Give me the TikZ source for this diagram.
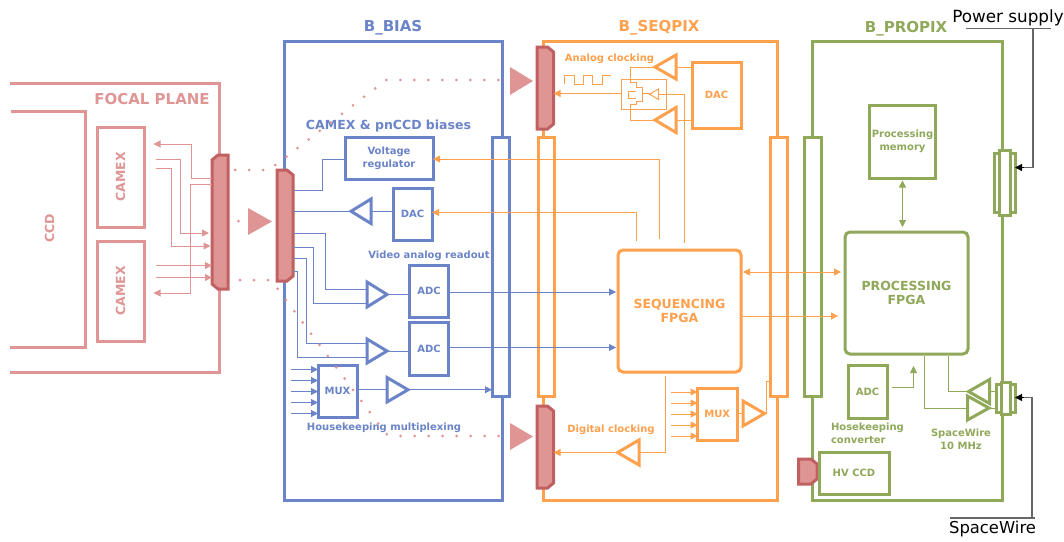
\documentclass[tikz,border=0pt]{standalone}
\usepackage{fontspec}
\setmainfont{DejaVu Sans}
\usetikzlibrary{arrows.meta}
\definecolor{pinkc}{HTML}{E09595}
\definecolor{redc}{HTML}{C06060}
\definecolor{bluec}{HTML}{6B84C8}
\definecolor{orangec}{HTML}{FFA04D}
\definecolor{greenc}{HTML}{8FA85A}
\definecolor{grayc}{HTML}{666666}
\newcommand{\fsz}[1]{\bfseries\fontsize{#1}{\the\dimexpr #1pt*13/10\relax}\selectfont}
\tikzset{
  heavy/.style={line width=3pt,line join=miter},
  pinkbox/.style={heavy,draw=pinkc,fill=white,text=pinkc,inner sep=0pt,outer sep=0pt,align=center},
  bluebox/.style={heavy,draw=bluec,fill=white,text=bluec,inner sep=0pt,outer sep=0pt,align=center},
  orangebox/.style={heavy,draw=orangec,fill=white,text=orangec,inner sep=0pt,outer sep=0pt,align=center},
  greenbox/.style={heavy,draw=greenc,fill=white,text=greenc,inner sep=0pt,outer sep=0pt,align=center},
  roundbox/.style={rounded corners=5pt},
  pinkline/.style={line width=1pt,draw=pinkc},
  blueline/.style={line width=1pt,draw=bluec},
  orangeline/.style={line width=1pt,draw=orangec},
  greenline/.style={line width=1pt,draw=greenc},
  tipa/.style={-{Triangle[length=7pt,width=7pt]}},
  tipb/.style={{Triangle[length=7pt,width=7pt]}-{Triangle[length=7pt,width=7pt]}},
  ampblue/.style={heavy,draw=bluec,fill=white},
  amporange/.style={heavy,draw=orangec,fill=white},
  ampgreen/.style={heavy,draw=greenc,fill=white},
  connshape/.style={heavy,draw=redc,fill=pinkc},
  dots/.style={draw=pinkc,line width=3pt,line cap=round,dash pattern=on 0pt off 14pt},
  flag/.style={fill=pinkc,draw=none},
  lab/.style={inner sep=0pt,outer sep=0pt,align=center},
  anchorbox/.style={inner sep=0pt,outer sep=0pt},
  blackline/.style={line width=1.2pt,draw=grayc},
}
% box: style, name, x1,y1,x2,y2, text
\newcommand{\bxn}[7]{\node[#1,minimum width={(#5-#3)*1pt},minimum height={(#6-#4)*1pt}] (#2) at ({(#3+#5)/2},{(#4+#6)/2}) {#7};}
% amplifier: style, name, base x, tip x, y top, y bottom
\newcommand{\ampn}[6]{\coordinate (#2-b) at (#3,{(#5+#6)/2});\coordinate (#2-t) at (#4,{(#5+#6)/2});
  \draw[#1] (#3,#5) -- (#2-t) -- (#3,#6) -- cycle;}
% connector with chamfered right / left corners
\newcommand{\connR}[5]{\node[anchorbox,minimum width={(#4-#2)*1pt},minimum height={(#5-#3)*1pt}] (#1) at ({(#2+#4)/2},{(#3+#5)/2}) {};
  \draw[connshape] (#2,#3) -- ({#4-6},#3) -- (#4,{#3+5}) -- (#4,{#5-5}) -- ({#4-6},#5) -- (#2,#5) -- cycle;}
\newcommand{\connL}[5]{\node[anchorbox,minimum width={(#4-#2)*1pt},minimum height={(#5-#3)*1pt}] (#1) at ({(#2+#4)/2},{(#3+#5)/2}) {};
  \draw[connshape] (#4,#3) -- ({#2+6},#3) -- (#2,{#3+5}) -- (#2,{#5-5}) -- ({#2+6},#5) -- (#4,#5) -- cycle;}
\begin{document}
\begin{tikzpicture}[x=1pt,y=-1pt]
\useasboundingbox (0,0) rectangle (1064,541);
% ---------- enclosures
\draw[heavy,draw=pinkc] (10,83) -- (219,83) -- (219,372) -- (10,372);
\draw[heavy,draw=pinkc] (11,111) -- (85,111) -- (85,347) -- (10,347);
\draw[heavy,draw=bluec] (284,41) rectangle (502,500);
\draw[heavy,draw=orangec] (543,41) rectangle (777,500);
\draw[heavy,draw=greenc] (812,41) rectangle (1002,500);
% ---------- titles
\node[lab,text=bluec,font=\fsz{15}] (tbias) at (393,27.5) {B\_BIAS};
\node[lab,text=orangec,font=\fsz{15}] (tseq) at (659,27.5) {B\_SEQPIX};
\node[lab,text=greenc,font=\fsz{15}] (tpro) at (906,29) {B\_PROPIX};
\node[lab,text=pinkc,font=\fsz{15}] (tfocal) at (152,99.5) {FOCAL PLANE};
\node[lab,text=pinkc,font=\fsz{12.5},rotate=90] (tccd) at (49.5,228) {CCD};
% ---------- focal plane
\bxn{pinkbox,font=\fsz{12.5}}{camA}{97}{127}{144}{227}{\rotatebox{90}{CAMEX}}
\bxn{pinkbox,font=\fsz{12.5}}{camB}{97}{241}{144}{341}{\rotatebox{90}{CAMEX}}
% ---------- bars
\bxn{bluebox}{barB}{492}{137}{509}{396}{}
\bxn{orangebox}{barSL}{538}{137}{554}{396}{}
\bxn{orangebox}{barSR}{770}{137}{787}{396}{}
\bxn{greenbox}{barP}{804}{137}{821}{396}{}
% ---------- connectors (shapes)
\connL{conF}{212}{155}{228}{289}
\connR{conB}{277}{170}{293}{281}
\connR{conST}{537}{47}{553.5}{129}
\connR{conSB}{537}{406}{553.5}{488}
\connR{conHV}{798.5}{459}{817}{484}
% ---------- flow triangles
\fill[flag] (248,208) -- (272,221.5) -- (248,235) -- cycle;
\fill[flag] (510,67) -- (533,81) -- (510,95) -- cycle;
\fill[flag] (510,423) -- (533,436.5) -- (510,450) -- cycle;
% ---------- blue blocks
\bxn{bluebox,font=\fsz{10}}{vreg}{345}{137}{433}{179}{Voltage\\regulator}
\bxn{bluebox,font=\fsz{10}}{bdac}{393}{188}{432}{240}{DAC}
\bxn{bluebox,font=\fsz{10}}{adcA}{409.5}{265}{448.5}{317.5}{ADC}
\bxn{bluebox,font=\fsz{10}}{adcB}{409.5}{322}{448.5}{375}{ADC}
\bxn{bluebox,font=\fsz{10}}{bmux}{318}{365}{357}{417.5}{MUX}
\ampn{ampblue}{adac}{371}{351}{199}{223.5}
\ampn{ampblue}{aA}{367}{387}{282}{307}
\ampn{ampblue}{aB}{367}{387}{339}{363}
\ampn{ampblue}{aM}{387}{408}{377.5}{402}
\node[lab,text=bluec,font=\fsz{12.5}] (t1) at (388.5,126) {CAMEX \& pnCCD biases};
\node[lab,text=bluec,font=\fsz{10}] (t2) at (429,255.5) {Video analog readout};
\node[lab,text=bluec,font=\fsz{10}] (t3) at (384,427.5) {Housekeeping multiplexing};
% ---------- orange blocks
\bxn{orangebox,roundbox,font=\fsz{12.5}}{seqf}{618}{250}{741}{372}{SEQUENCING\\[-2pt]FPGA}
\bxn{orangebox,font=\fsz{10}}{odac}{692}{62}{741}{128}{DAC}
\bxn{orangebox,font=\fsz{10}}{omux}{697.5}{388}{737}{440.5}{MUX}
\ampn{amporange}{oA}{676}{655}{55}{79}
\ampn{amporange}{oB}{676}{655}{107.5}{132.5}
\ampn{amporange}{oD}{639}{617.5}{440}{465}
\ampn{amporange}{oM}{743}{764.5}{401}{426}
\node[lab,text=orangec,font=\fsz{10}] (t4) at (609.5,58.5) {Analog clocking};
\node[lab,text=orangec,font=\fsz{10}] (t5) at (611,429.5) {Digital clocking};
% analog clock switch
\draw[line width=1pt,draw=orangec] (621,79.5) rectangle (666.5,109.5);
\draw[orangeline] (oA-t) -- (630,67) -- (630,82) -- (636,82) -- (636,87) -- (642.5,87) -- (642.5,101) -- (636,101) -- (636,104) -- (630,104) -- (630,120) -- (oB-t);
\draw[orangeline] (636,91) -- (628.5,91) -- (628.5,98.5) -- (636,98.5);
\draw[orangeline] (642.5,93.5) -- (649.5,93.5);
\ampn{line width=1pt,draw=orangec,fill=white}{oS}{658.5}{649.5}{89}{99.5}
\draw[line width=1pt,draw=orangec] (564.5,84) -- (564.5,75) -- (574,75) -- (574,84) -- (583.5,84) -- (583.5,75) -- (592.5,75) -- (592.5,84) -- (602,84) -- (602,75) -- (611,75);
% ---------- green blocks
\bxn{greenbox,font=\fsz{10}}{pmem}{869.5}{105.5}{935.5}{178}{Processing\\memory}
\bxn{greenbox,roundbox,font=\fsz{12.5}}{prof}{845}{232}{968}{354}{PROCESSING\\[-2pt]FPGA}
\bxn{greenbox,font=\fsz{10}}{gadc}{848}{365}{887}{418}{ADC}
\bxn{greenbox,font=\fsz{10}}{hvccd}{819}{452}{889}{494}{HV CCD}
\ampn{ampgreen}{gA}{989.5}{968.5}{379.5}{403.5}
\ampn{ampgreen}{gB}{967.5}{989}{396}{420}
\node[lab,text=greenc,font=\fsz{10},align=left,anchor=west] (t6) at (831,433.5) {Hosekeeping\\converter};
\node[lab,text=greenc,font=\fsz{10}] (t7) at (961,439.5) {SpaceWire\\10 MHz};
\bxn{greenbox}{psO}{994.5}{153}{1015}{212}{}
\bxn{greenbox}{psI}{999.5}{150.5}{1010}{215}{}
\bxn{greenbox}{swO}{996}{384}{1015}{412.5}{}
\bxn{greenbox}{swI}{1001}{382.5}{1010}{414.5}{}
% ---------- thin connectors: focal plane
\coordinate (cA) at (153.5,144);
\coordinate (cB) at (153.5,293);
\coordinate (cC) at (156,159);
\coordinate (cD) at (156,168.5);
\coordinate (cE) at (156,265.5);
\coordinate (cF) at (156,277.5);
\draw[pinkline,tipa] (conF.west |- 0,178) -- (191,178) -- (191,144) -- (cA);
\draw[pinkline,tipa] (conF.west |- 0,184.5) -- (190.5,184.5) -- (190.5,293) -- (cB);
\draw[pinkline,tipa] (cC) -- (180,159) -- (180,233) -- (209,233);
\draw[pinkline,tipa] (cD) -- (171,168.5) -- (171,246) -- (210.5,246);
\draw[pinkline,tipa] (cE) -- (conF.west |- cE);
\draw[pinkline,tipa] (cF) -- (conF.west |- cF);
% ---------- thin connectors: blue
\draw[blueline] (conB.east |- 0,190) -- (322,190) -- (322,159.5) -- (vreg.west |- 0,159.5);
\draw[blueline] (conB.east |- adac-t) -- (adac-t);
\draw[blueline] (adac-b) -- (bdac.west |- adac-b);
\draw[blueline] (conB.east |- 0,233) -- (325,233) -- (325,289) -- (367,289);
\draw[blueline] (conB.east |- 0,247) -- (313,247) -- (313,303) -- (367,303);
\draw[blueline] (conB.east |- 0,258) -- (306,258) -- (306,343) -- (367,343);
\draw[blueline] (conB.east |- 0,271) -- (297,271) -- (297,357) -- (367,357);
\draw[blueline] (aA-t) -- (adcA.west |- aA-t);
\draw[blueline] (aB-t) -- (adcB.west |- aB-t);
\draw[blueline,tipa] (adcA.east |- 0,292) -- (616,292);
\draw[blueline,tipa] (adcB.east |- 0,347.5) -- (616,347.5);
\draw[blueline] (bmux.east |- aM-b) -- (aM-b);
\draw[blueline,tipa] (aM-t) -- (barB.west |- aM-t);
\foreach \yy in {369.5,380.5,391.5,402.5,413.5}
  \draw[blueline,tipa] (291,\yy) -- (bmux.west |- 0,\yy);
% ---------- thin connectors: orange
\draw[orangeline,tipa] (659,239) -- (659,159) -- (vreg.east |- 0,159);
\draw[orangeline,tipa] (636,240.5) -- (636,212.5) -- (bdac.east |- 0,212.5);
\draw[orangeline] (oS-b) -- (684.5,94.25) -- (684.5,243);
\draw[orangeline] (oA-b) -- (odac.west |- oA-b);
\draw[orangeline] (oB-b) -- (odac.west |- oB-b);
\draw[orangeline,tipa] (620.5,93.5) -- (conST.east |- 0,93.5);
\draw[orangeline] (665.5,376) -- (665.5,452.5) -- (oD-b);
\draw[orangeline,tipa] (oD-t) -- (conSB.east |- oD-t);
\foreach \yy in {392,403,414,425,436}
  \draw[orangeline,tipa] (671,\yy) -- (omux.west |- 0,\yy);
\draw[orangeline] (omux.east |- oM-b) -- (oM-b);
\draw[orangeline] (oM-t) -- (766.5,413.5) -- (766.5,381.5) -- (barSR.west |- 0,381.5);
\draw[orangeline,tipb] (743,272) -- (841,272);
\draw[orangeline,tipa] (seqf.east |- 0,316) -- (838,316);
% ---------- thin connectors: green
\draw[greenline,tipb] (902.5,180.5) -- (902.5,227);
\draw[greenline] (948.5,356) -- (948.5,391.5) -- (gA-t);
\draw[greenline] (924,356) -- (924,408) -- (gB-b);
\draw[greenline] (gA-b) -- (swO.west |- gA-b);
\draw[greenline] (gB-t) -- (swO.west |- gB-t);
\draw[greenline,tipa] (gadc.east |- 0,387.5) ++(4.5,0) -- (913.5,387.5) -- (913.5,366);
% ---------- external supply lines
\node[lab,font=\fontsize{16.8}{20}\selectfont,anchor=base] (pwr) at (1008,22) {Power supply};
\node[lab,font=\fontsize{16.4}{20}\selectfont,anchor=base] (spw) at (992.5,533) {SpaceWire};
\coordinate (pwrA) at (966,28.5);
\coordinate (pwrB) at (1051,28.5);
\coordinate (spwA) at (950,518);
\coordinate (spwB) at (1035,518);
\draw[blackline] (pwrA) -- (pwrB);
\draw[blackline] (spwA) -- (spwB);
\draw[blackline] (1033,28.5) -- (1033,167.5) -- (1022,167.5);
\draw[blackline] (1032,518) -- (1032,397.5) -- (1022,397.5);
\draw[line width=1pt,tipa,black] (1024,167.5) -- (psO.east |- 0,167.5);
\draw[line width=1pt,tipa,black] (1024,397.5) -- (swO.east |- 0,397.5);
% ---------- dotted links
\draw[dots] (235,170) -- (269,170) -- (386,80) -- (510,80);
\draw[dots] (240,280) -- (271,280) -- (386,434) -- (399,436) -- (510,436);
\fill[pinkc] (238.5,221) circle (1.5);
\end{tikzpicture}
\end{document}
